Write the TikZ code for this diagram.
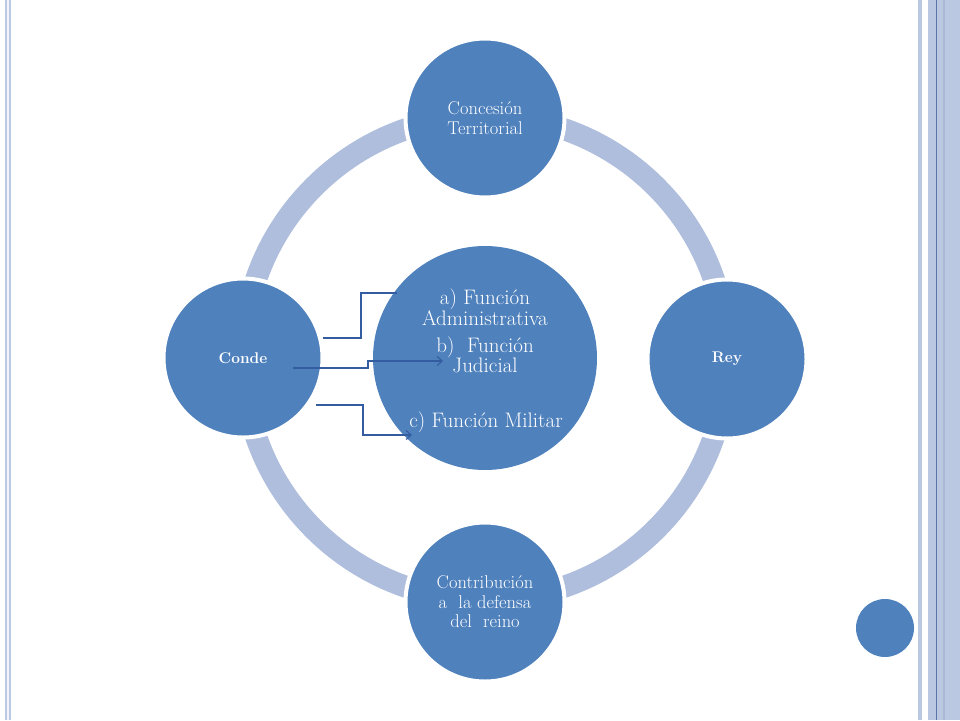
\documentclass[tikz,border=0pt]{standalone}
\usepackage{fontspec}
\usepackage{tikz}
\usetikzlibrary{arrows.meta}
\definecolor{nodeblue}{RGB}{79,129,189}
\definecolor{ringblue}{RGB}{175,190,221}
\definecolor{linkblue}{RGB}{52,92,160}
\definecolor{frameblue}{RGB}{187,200,226}
\definecolor{framemid}{RGB}{170,185,213}
\definecolor{framedark}{RGB}{92,117,168}

\begin{document}
\begin{tikzpicture}[x=1pt, y=-1pt,
  satellite/.style={circle, fill=nodeblue, draw=white, line width=4pt,
    minimum size=159pt, inner sep=0pt, text=white, align=center,
    font={\fontsize{18.5}{19.5}\selectfont}},
  boldsat/.style={satellite, font={\bfseries\fontsize{15.5}{18}\selectfont}},
  hub/.style={circle, fill=nodeblue, minimum size=224pt, inner sep=0pt},
  hubtext/.style={text=white, align=center, inner sep=0pt,
    font={\fontsize{21}{20.5}\selectfont}},
  link/.style={linkblue, line width=1.1pt},
  linkarrow/.style={link, -{Straight Barb[length=5pt, width=9pt]}}]
\useasboundingbox (0,0) rectangle (960,720);

% Frame stripes
\fill[frameblue] (5,0) rectangle (11,720);
\fill[white!80!frameblue] (6.5,0) rectangle (9,720);
\fill[frameblue] (918,0) rectangle (922,720);
\fill[frameblue] (928,0) rectangle (960,720);
\fill[framedark] (936,0) rectangle (937.2,720);
\fill[framemid] (943,0) rectangle (945,720);
\fill[nodeblue] (885,628) circle[radius=29pt];

% Ring
\draw[ringblue, line width=22pt] (485,358) circle[radius=242pt];

% Outer circles
\node[satellite] (conc) at (485,118) {Concesión\\Territorial};
\node[boldsat] (rey) at (727,359) {Rey};
\node[satellite] (contrib) at (485,602) {Contribución\\a~ la defensa\\del~ reino};
\node[boldsat] (conde) at (243,358) {Conde};

% Centre circle
\node[hub] (hub) at (485,358) {};
\node[hubtext] (funcA) at (485,307) {a) Función\\Administrativa};
\node[hubtext] (funcB) at (485,355) {b)~ Función\\Judicial};
\node[hubtext] (funcC) at (486,422) {c) Función Militar};

% Connectors
\coordinate (startA) at (323,338);
\coordinate (endA) at (397,293);
\coordinate (startB) at (293,368);
\coordinate (endB) at (443,361);
\coordinate (startC) at (316,405);
\coordinate (endC) at (412,435);
\draw[link] (startA) -- ++(38,0) |- (endA);
\draw[linkarrow] (startB) -- ++(75,0) |- (endB);
\draw[linkarrow] (startC) -- ++(47,0) |- (endC);
\end{tikzpicture}
\end{document}
